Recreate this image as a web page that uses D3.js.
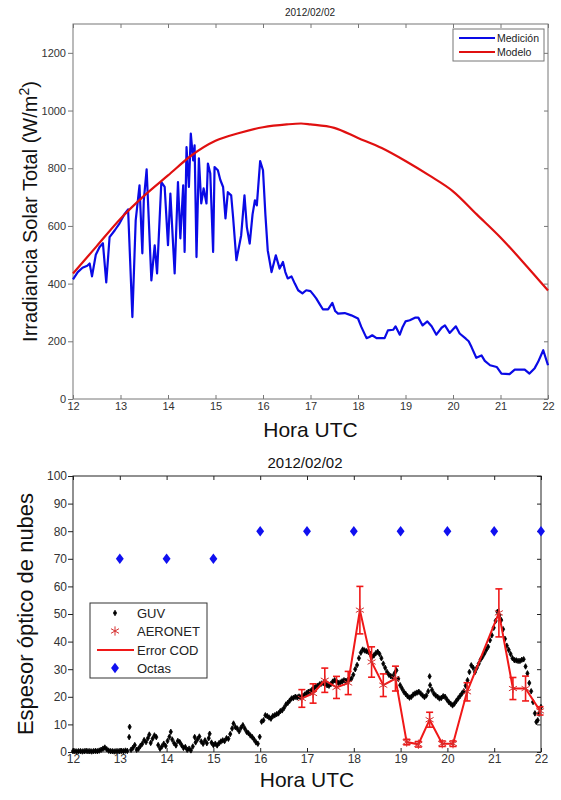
<!DOCTYPE html>
<html>
<head>
<meta charset="utf-8">
<script src="https://cdn.jsdelivr.net/npm/d3@7"></script>
<style>
  body { margin: 0; background: #fff; }
  svg { font-family: "Liberation Sans", Arial, sans-serif; }
</style>
</head>
<body>
<svg width="561" height="800"></svg>
<script>
// ---- top panel data: irradiancia (W/m2) vs hora UTC
var horaTicks = d3.range(12, 23);
var irrTicks = [0, 200, 400, 600, 800, 1000, 1200];

var modeloHora = [12, 12.5, 13, 13.5, 14, 14.5, 15, 15.5, 16, 16.5, 16.8, 17, 17.5, 18, 18.5, 19, 19.5, 20, 20.5, 21, 21.5, 22];
var modeloIrr  = [435, 530, 625, 705, 775, 845, 895, 922, 942, 952, 955, 952, 940, 905, 870, 825, 775, 720, 640, 560, 470, 376];

var medicionHora = [12.0, 12.1, 12.2, 12.3, 12.35, 12.4, 12.48, 12.56, 12.63, 12.7, 12.77, 12.88, 12.98, 13.08, 13.16, 13.25, 13.32,
  13.4, 13.46, 13.49, 13.55, 13.65, 13.72, 13.77, 13.86, 13.93, 14.0, 14.05, 14.14, 14.21, 14.26, 14.32, 14.35,
  14.39, 14.44, 14.48, 14.53, 14.56, 14.6, 14.65, 14.7, 14.75, 14.81, 14.84, 14.89, 14.95, 14.98, 15.05, 15.1, 15.16,
  15.21, 15.26, 15.33, 15.37, 15.44, 15.54, 15.61, 15.66, 15.72, 15.78, 15.83, 15.87, 15.94, 16.0, 16.05, 16.1, 16.18, 16.27,
  16.35, 16.42, 16.47, 16.52, 16.6, 16.67, 16.74, 16.83, 16.91, 17.0, 17.06, 17.12, 17.19, 17.26, 17.37, 17.46, 17.52, 17.58, 17.72, 17.86, 18.0,
  18.07, 18.18, 18.24, 18.3, 18.39, 18.56, 18.63, 18.74, 18.79, 18.88, 18.94, 19.0, 19.09, 19.2, 19.27, 19.36, 19.46, 19.55,
  19.65, 19.76, 19.83, 19.93, 20.06, 20.14, 20.27, 20.33, 20.39, 20.49, 20.6, 20.67, 20.78, 20.92, 21.02, 21.19, 21.3,
  21.51, 21.61, 21.72, 21.79, 21.9, 22.0];
var medicionIrr = [415, 440, 455, 462, 470, 425, 500, 527, 540, 404, 561, 585, 609, 640, 657, 284, 619,
  741, 505, 688, 796, 411, 533, 435, 752, 735, 533, 712, 435, 752, 557, 741, 510,
  873, 735, 920, 827, 879, 492, 834, 678, 730, 678, 816, 782, 510, 804, 793, 760, 735,
  626, 717, 706, 631, 481, 567, 706, 596, 539, 640, 689, 671, 825, 793, 640, 515, 440, 498,
  452, 475, 440, 418, 425, 400, 377, 366, 377, 374, 362, 349, 330, 311, 311, 333, 305, 296, 298, 290, 279,
  250, 211, 215, 221, 211, 211, 238, 240, 252, 223, 250, 269, 273, 282, 282, 255, 269, 252,
  223, 247, 255, 229, 252, 227, 209, 200, 180, 143, 151, 132, 117, 111, 88, 86, 102,
  102, 88, 107, 128, 169, 117];

// ---- bottom panel data: espesor optico de nubes vs hora UTC
var codTicks = d3.range(0, 101, 10);

var guv = [[12.00,0.3],[12.04,0.3],[12.08,0.2],[12.12,0.3],[12.16,0.3],[12.20,0.2],[12.24,0.3],[12.28,0.4],[12.32,0.3],
  [12.36,0.3],[12.40,0.2],[12.44,0.3],[12.48,0.4],[12.52,0.3],[12.56,0.5],[12.60,0.8],[12.64,1.2],[12.68,1.6],[12.72,1.0],
  [12.76,0.5],[12.80,0.3],[12.84,0.3],[12.88,0.2],[12.92,0.3],[12.96,0.3],[13.00,0.3],[13.04,0.4],[13.08,0.3],[13.12,0.5],
  [13.16,0.4],[13.20,5.4],[13.21,9.1],[13.24,0.8],[13.28,1.5],[13.32,2.5],[13.36,0.8],[13.40,1.2],[13.44,2.2],[13.48,3.0],
  [13.52,4.3],[13.56,3.6],[13.60,5.0],[13.63,6.3],[13.66,3.3],[13.70,4.8],[13.74,6.0],[13.78,5.4],[13.82,2.5],[13.86,1.2],
  [13.90,2.0],[13.94,3.0],[13.98,2.2],[14.02,4.0],[14.06,5.5],[14.09,7.3],[14.12,4.5],[14.16,3.2],[14.20,2.4],[14.24,4.0],
  [14.28,3.6],[14.32,2.5],[14.36,1.5],[14.40,1.8],[14.44,0.8],[14.48,1.2],[14.52,0.6],[14.56,2.0],[14.60,5.4],[14.62,3.5],
  [14.66,4.6],[14.70,5.6],[14.74,3.8],[14.78,3.0],[14.82,4.2],[14.86,3.2],[14.90,5.0],[14.92,6.6],[14.96,3.4],[15.00,2.5],
  [15.04,3.0],[15.08,2.4],[15.12,3.2],[15.16,3.8],[15.20,4.2],[15.24,4.0],[15.28,5.0],[15.32,4.8],[15.36,6.5],[15.40,8.5],
  [15.43,10.3],[15.47,9.0],[15.51,8.5],[15.55,7.5],[15.59,8.8],[15.63,9.7],[15.67,8.5],[15.71,7.3],[15.75,6.8],[15.79,6.0],
  [15.83,5.4],[15.87,4.5],[15.91,3.5],[15.95,3.0],[15.99,5.5],[16.03,11.0],[16.07,11.5],[16.11,13.3],[16.15,13.0],[16.19,12.5],
  [16.23,12.1],[16.27,13.0],[16.31,13.3],[16.35,13.7],[16.39,14.0],[16.43,14.8],[16.47,15.1],[16.51,16.0],[16.55,17.2],
  [16.59,17.8],[16.63,18.6],[16.67,19.4],[16.71,19.6],[16.75,20.0],[16.79,19.8],[16.83,20.1],[16.87,19.8],[16.91,20.2],
  [16.95,20.8],[16.99,21.3],[17.03,21.8],[17.07,22.0],[17.11,22.6],[17.15,23.2],[17.19,23.8],[17.23,24.0],[17.27,24.5],
  [17.31,24.8],[17.35,25.0],[17.39,24.8],[17.43,24.2],[17.47,24.0],[17.51,24.6],[17.55,25.5],[17.59,26.0],[17.63,25.6],
  [17.67,25.0],[17.71,25.2],[17.75,25.6],[17.79,26.0],[17.83,25.8],[17.87,26.0],[17.91,26.4],[17.95,26.6],[17.99,28.0],
  [18.03,30.0],[18.07,31.5],[18.11,34.0],[18.15,36.0],[18.19,37.1],[18.23,36.8],[18.27,36.5],[18.31,36.3],[18.35,35.5],
  [18.39,34.5],[18.43,35.0],[18.47,35.8],[18.51,36.3],[18.55,35.5],[18.59,34.0],[18.63,32.0],[18.67,30.5],[18.71,29.0],
  [18.75,28.0],[18.79,27.5],[18.83,27.2],[18.87,28.5],[18.91,29.6],[18.95,26.5],[18.99,24.2],[19.03,23.0],[19.07,21.8],
  [19.11,21.0],[19.15,20.2],[19.19,19.7],[19.23,20.0],[19.27,20.8],[19.31,21.2],[19.35,21.5],[19.39,21.8],[19.43,21.2],
  [19.47,20.5],[19.51,19.9],[19.55,20.5],[19.59,22.0],[19.62,27.4],[19.63,24.2],[19.67,22.5],[19.71,21.2],[19.75,20.5],
  [19.79,20.0],[19.83,19.4],[19.87,19.6],[19.91,20.2],[19.95,20.0],[19.99,19.0],[20.03,18.1],[20.07,17.5],[20.11,16.9],
  [20.15,17.5],[20.19,18.5],[20.23,19.4],[20.27,20.3],[20.31,21.2],[20.35,22.0],[20.39,24.0],[20.43,26.0],[20.47,29.0],
  [20.51,31.4],[20.55,30.5],[20.59,29.0],[20.63,30.5],[20.67,32.0],[20.71,33.5],[20.75,34.5],[20.79,35.7],[20.83,37.0],
  [20.87,38.1],[20.91,40.5],[20.95,42.3],[20.99,45.0],[21.03,47.5],[21.07,50.8],[21.11,49.5],[21.15,47.8],[21.19,44.5],
  [21.23,41.0],[21.27,38.5],[21.31,37.0],[21.35,35.5],[21.39,34.0],[21.43,33.3],[21.47,33.2],[21.51,33.0],[21.55,33.0],
  [21.59,33.4],[21.63,33.6],[21.67,31.0],[21.71,28.5],[21.75,25.0],[21.79,22.0],[21.83,18.1],[21.87,14.0],[21.90,10.9],
  [21.93,11.5],[21.96,13.9],[22.00,16.3]];

var aeronetHora = [16.89, 17.13, 17.38, 17.63, 17.88, 18.13, 18.38, 18.63, 18.89, 19.13, 19.38, 19.62, 19.89, 20.12, 20.42, 21.1, 21.4, 21.67, 21.98];
var aeronetCOD  = [19.4, 21.2, 26.0, 23.4, 25.0, 51.4, 32.6, 24.2, 26.6, 3.6, 2.8, 11.7, 3.0, 3.0, 21.8, 50.4, 23.0, 23.0, 14.9];
var aeronetErr  = [3.2, 3.5, 4.4, 4.0, 4.2, 8.6, 5.5, 4.1, 4.5, 1.0, 1.0, 2.7, 1.0, 1.0, 3.3, 8.7, 4.0, 4.5, 1.5];

var octasHora = [13, 14, 15, 16, 17, 18, 19, 20, 21, 22];
var octasVal  = [70, 70, 70, 80, 80, 80, 80, 80, 80, 80];

var svg = d3.select("svg");
var font = '"Liberation Sans", Arial, sans-serif';

// ================= top panel =================
var top1 = {left: 73, right: 548, top: 24, bottom: 399};

var x1 = d3.scaleLinear().domain([12, 22]).range([top1.left, top1.right]);
var y1 = d3.scaleLinear().domain([0, 1300]).range([top1.bottom, top1.top]);

var g1 = svg.append("g");

g1.append("rect")
  .attr("x", top1.left).attr("y", top1.top)
  .attr("width", top1.right - top1.left).attr("height", top1.bottom - top1.top)
  .attr("fill", "#fff").attr("stroke", "#777").attr("stroke-width", 1);

function styleAxis(sel, col, size) {
  sel.select(".domain").remove();
  sel.selectAll("line").attr("stroke", col);
  sel.selectAll("text").attr("fill", "#333").style("font-size", size + "px").style("font-family", font);
}

g1.append("g").attr("transform", "translate(0," + top1.bottom + ")")
  .call(d3.axisBottom(x1).tickValues(horaTicks).tickSize(-4).tickPadding(3).tickFormat(d3.format("d")))
  .call(styleAxis, "#777", 11);
g1.append("g").attr("transform", "translate(0," + top1.top + ")")
  .call(d3.axisTop(x1).tickValues(horaTicks).tickSize(-4).tickFormat(""))
  .call(styleAxis, "#777", 11);
g1.append("g").attr("transform", "translate(" + top1.left + ",0)")
  .call(d3.axisLeft(y1).tickValues(irrTicks).tickSize(5).tickPadding(2).tickFormat(d3.format("d")))
  .call(styleAxis, "#777", 11);
g1.append("g").attr("transform", "translate(" + top1.right + ",0)")
  .call(d3.axisRight(y1).tickValues(irrTicks).tickSize(-4).tickFormat(""))
  .call(styleAxis, "#777", 11);

var line1 = d3.line().x(function(d) { return x1(d[0]); }).y(function(d) { return y1(d[1]); });

g1.append("path")
  .datum(medicionHora.map(function(h, i) { return [h, medicionIrr[i]]; }))
  .attr("d", line1).attr("fill", "none")
  .attr("stroke", "#0a0ae6").attr("stroke-width", 2.2).attr("stroke-linejoin", "round");

g1.append("path")
  .datum(modeloHora.map(function(h, i) { return [h, modeloIrr[i]]; }))
  .attr("d", d3.line().curve(d3.curveMonotoneX).x(function(d) { return x1(d[0]); }).y(function(d) { return y1(d[1]); }))
  .attr("fill", "none").attr("stroke", "#e01010").attr("stroke-width", 2.2);

g1.append("text").attr("x", 310).attr("y", 16).attr("text-anchor", "middle")
  .style("font-size", "10px").attr("fill", "#222").text("2012/02/02");

g1.append("text").attr("x", (top1.left + top1.right) / 2).attr("y", 437).attr("text-anchor", "middle")
  .style("font-size", "21px").attr("fill", "#111").text("Hora UTC");

var yl1 = g1.append("text")
  .attr("transform", "translate(37," + (top1.top + top1.bottom) / 2 + ") rotate(-90)")
  .attr("text-anchor", "middle").style("font-size", "20px").attr("fill", "#111");
yl1.append("tspan").text("Irradiancia Solar Total (W/m");
yl1.append("tspan").attr("dy", -8).style("font-size", "14px").text("2");
yl1.append("tspan").attr("dy", 8).text(")");

// legend top
var leg1 = g1.append("g").attr("transform", "translate(453,29)");
leg1.append("rect").attr("width", 91).attr("height", 32).attr("fill", "#fff").attr("stroke", "#777");
[["Medición", "#0a0ae6"], ["Modelo", "#e01010"]].forEach(function(e, i) {
  var yy = 9 + i * 14;
  leg1.append("line").attr("x1", 6).attr("x2", 42).attr("y1", yy).attr("y2", yy)
    .attr("stroke", e[1]).attr("stroke-width", 2.2);
  leg1.append("text").attr("x", 44).attr("y", yy + 4).style("font-size", "10.5px").attr("fill", "#222").text(e[0]);
});

// ================= bottom panel =================
var bot = {left: 73, right: 541, top: 476, bottom: 752};

var x2 = d3.scaleLinear().domain([12, 22]).range([bot.left, bot.right]);
var y2 = d3.scaleLinear().domain([0, 100]).range([bot.bottom, bot.top]);

var g2 = svg.append("g");

g2.append("rect")
  .attr("x", bot.left).attr("y", bot.top)
  .attr("width", bot.right - bot.left).attr("height", bot.bottom - bot.top)
  .attr("fill", "#fff").attr("stroke", "#222").attr("stroke-width", 1);

g2.append("g").attr("transform", "translate(0," + bot.bottom + ")")
  .call(d3.axisBottom(x2).tickValues(horaTicks).tickSize(-4).tickPadding(2).tickFormat(d3.format("d")))
  .call(styleAxis, "#222", 12);
g2.append("g").attr("transform", "translate(0," + bot.top + ")")
  .call(d3.axisTop(x2).tickValues(horaTicks).tickSize(-4).tickFormat(""))
  .call(styleAxis, "#222", 12);
g2.append("g").attr("transform", "translate(" + bot.left + ",0)")
  .call(d3.axisLeft(y2).tickValues(codTicks).tickSize(5).tickPadding(1))
  .call(styleAxis, "#222", 12);
g2.append("g").attr("transform", "translate(" + bot.right + ",0)")
  .call(d3.axisRight(y2).tickValues(codTicks).tickSize(-4).tickFormat(""))
  .call(styleAxis, "#222", 12);

// GUV dots
var guvSym = d3.symbol().type(d3.symbolDiamond).size(9);
g2.append("g").selectAll("path")
  .data(guv)
  .enter().append("path")
    .attr("d", guvSym)
    .attr("transform", function(d) { return "translate(" + x2(d[0]) + "," + y2(d[1]) + ")"; })
    .attr("fill", "#000").attr("stroke", "#000").attr("stroke-width", 0.8);

// Error COD line + error bars
var aero = aeronetHora.map(function(h, i) { return {h: h, v: aeronetCOD[i], e: aeronetErr[i]}; });
var red = "#f01818";

g2.append("path")
  .datum(aero)
  .attr("d", d3.line().x(function(d) { return x2(d.h); }).y(function(d) { return y2(d.v); }))
  .attr("fill", "none").attr("stroke", red).attr("stroke-width", 2);

var eb = g2.append("g").selectAll("g").data(aero).enter().append("g")
  .attr("stroke", red).attr("stroke-width", 1.6);
eb.append("line")
  .attr("x1", function(d) { return x2(d.h); }).attr("x2", function(d) { return x2(d.h); })
  .attr("y1", function(d) { return y2(d.v - d.e); }).attr("y2", function(d) { return y2(d.v + d.e); });
eb.append("line")
  .attr("x1", function(d) { return x2(d.h) - 3.5; }).attr("x2", function(d) { return x2(d.h) + 3.5; })
  .attr("y1", function(d) { return y2(d.v + d.e); }).attr("y2", function(d) { return y2(d.v + d.e); });
eb.append("line")
  .attr("x1", function(d) { return x2(d.h) - 3.5; }).attr("x2", function(d) { return x2(d.h) + 3.5; })
  .attr("y1", function(d) { return y2(d.v - d.e); }).attr("y2", function(d) { return y2(d.v - d.e); });

// AERONET asterisks
var ast = d3.symbol().type(d3.symbolAsterisk).size(60);
g2.append("g").selectAll("path")
  .data(aero)
  .enter().append("path")
    .attr("d", ast)
    .attr("transform", function(d) { return "translate(" + x2(d.h) + "," + y2(d.v) + ")"; })
    .attr("fill", "none").attr("stroke", "#d63030").attr("stroke-width", 1);

// Octas diamonds
var dia = d3.symbol().type(d3.symbolDiamond).size(32);
g2.append("g").selectAll("path")
  .data(octasHora)
  .enter().append("path")
    .attr("d", dia)
    .attr("transform", function(d, i) { return "translate(" + x2(d) + "," + y2(octasVal[i]) + ") scale(1.3,1.0)"; })
    .attr("fill", "#1010f0");

g2.append("text").attr("x", 305).attr("y", 468).attr("text-anchor", "middle")
  .style("font-size", "15px").attr("fill", "#111").text("2012/02/02");

g2.append("text").attr("x", (bot.left + bot.right) / 2).attr("y", 787).attr("text-anchor", "middle")
  .style("font-size", "21px").attr("fill", "#111").text("Hora UTC");

g2.append("text")
  .attr("transform", "translate(33," + (bot.top + bot.bottom) / 2 + ") rotate(-90)")
  .attr("text-anchor", "middle").style("font-size", "22px").attr("fill", "#111")
  .text("Espesor óptico de nubes");

// legend bottom
var leg2 = g2.append("g").attr("transform", "translate(90,603)");
leg2.append("rect").attr("width", 117).attr("height", 75).attr("fill", "#fff").attr("stroke", "#333");
var ly = [10, 28, 47, 65];
var labels = ["GUV", "AERONET", "Error COD", "Octas"];
labels.forEach(function(t, i) {
  leg2.append("text").attr("x", 47).attr("y", ly[i] + 5).style("font-size", "13px").attr("fill", "#222").text(t);
});
leg2.append("path").attr("d", guvSym).attr("transform", "translate(25," + ly[0] + ")").attr("fill", "#000").attr("stroke", "#000").attr("stroke-width", 0.8);
leg2.append("path").attr("d", ast).attr("transform", "translate(25," + ly[1] + ")").attr("fill", "none").attr("stroke", "#d63030");
leg2.append("line").attr("x1", 7).attr("x2", 44).attr("y1", ly[2]).attr("y2", ly[2]).attr("stroke", red).attr("stroke-width", 2);
leg2.append("path").attr("d", dia).attr("transform", "translate(25," + ly[3] + ") scale(1.3,1.0)").attr("fill", "#1010f0");
</script>
</body>
</html>
